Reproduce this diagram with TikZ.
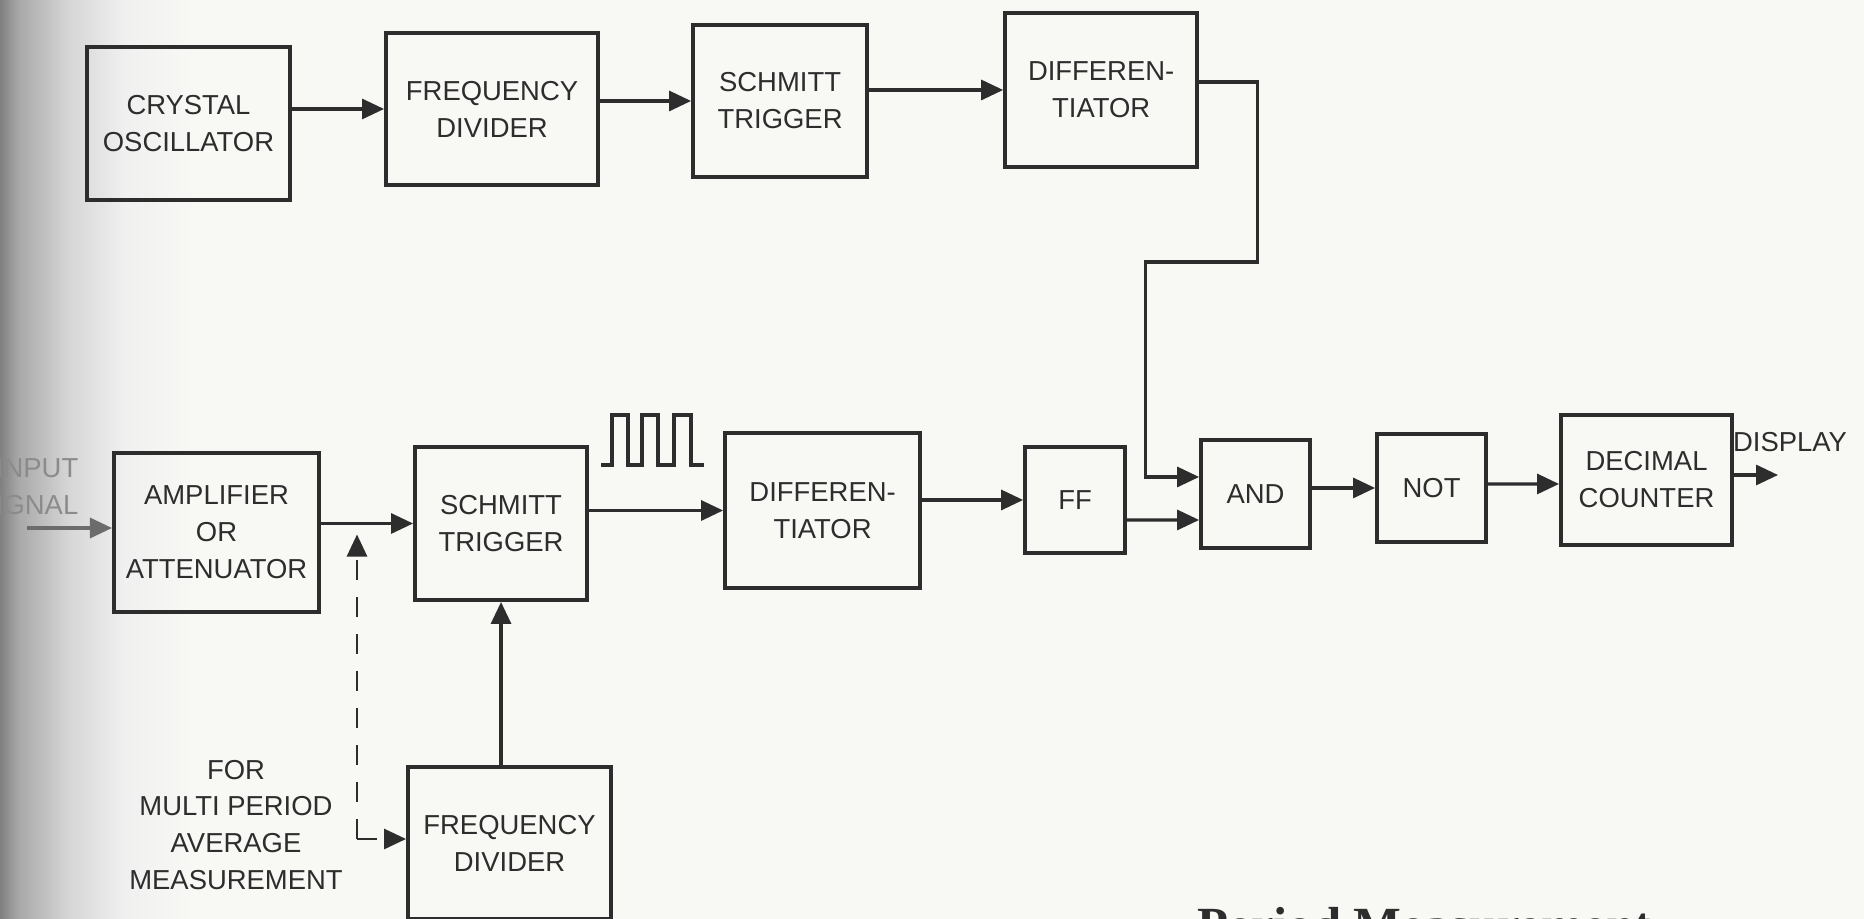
\documentclass[tikz,border=0pt]{standalone}
\usepackage{fontspec}
\setmainfont{Liberation Serif}
\setsansfont{Liberation Sans}
\usetikzlibrary{arrows.meta, positioning, calc}

\definecolor{paper}{RGB}{248,248,245}
\definecolor{ink}{RGB}{45,45,45}
\pgfdeclarehorizontalshading{gutter}{100bp}{color(0bp)=(black!50); color(25bp)=(black!50); color(29bp)=(black!34); color(40bp)=(black!16); color(52bp)=(black!6); color(67bp)=(paper); color(100bp)=(paper)}

\begin{document}
\begin{tikzpicture}[
        x=0.01cm, y=-0.01cm,
        block/.style={rectangle, draw=ink, line width=1.1pt, text=ink, align=center, inner sep=0.5mm, font=\sffamily\fontsize{7.8}{10.5}\selectfont},
        note/.style={text=ink, align=center, inner sep=0.5mm, font=\sffamily\fontsize{7.8}{10.5}\selectfont},
        arrow/.style={-{Triangle[length=2.2mm, width=2mm]}, draw=ink, line width=0.9pt},
        dasharrow/.style={-{Triangle[length=2.2mm, width=2mm]}, draw=ink, line width=0.8pt, dash pattern=on 2mm off 1.7mm}
    ]

    % page and gutter shadow
    \fill [paper] (0,0) rectangle (1864,919);
    \shade [shading=gutter] (0,0) rectangle (230,919);
    \useasboundingbox (0,0) rectangle (1864,919);

    % reference chain
    \node (cry_node) [block, minimum width=20.3mm, minimum height=15.3mm] at (188.5,123.5) {CRYSTAL\\OSCILLATOR};
    \node (fdiv_node) [block, minimum width=21.2mm, minimum height=15.2mm, right=9.2mm of cry_node, yshift=1.45mm] {FREQUENCY\\DIVIDER};
    \node (schmitt_node) [block, minimum width=17.4mm, minimum height=15.2mm, right=9.1mm of fdiv_node, yshift=0.8mm] {SCHMITT\\TRIGGER};
    \node (diff_node) [block, minimum width=19.2mm, minimum height=15.4mm, right=13.4mm of schmitt_node, yshift=1.1mm] {DIFFEREN-\\TIATOR};

    % signal chain
    \coordinate (input_pt) at (27,528);
    \node (insig_node) [note, text=ink!55, anchor=east, align=right] at (84,487) {INPUT\\SIGNAL};
    \node (amp_node) [block, minimum width=20.5mm, minimum height=15.9mm] at (216.5,532.5) {AMPLIFIER\\OR\\ATTENUATOR};
    \node (schmitt2_node) [block, minimum width=17.2mm, minimum height=15.3mm, right=9.2mm of amp_node, yshift=0.9mm] {SCHMITT\\TRIGGER};
    \node (diff2_node) [block, minimum width=19.5mm, minimum height=15.5mm, right=13.4mm of schmitt2_node, yshift=1.3mm] {DIFFEREN-\\TIATOR};
    \node (ff_node) [block, minimum width=10mm, minimum height=10.6mm, right=10.1mm of diff2_node, yshift=1.05mm] {FF};
    \node (and_node) [block, minimum width=10.9mm, minimum height=10.8mm, right=7.2mm of ff_node, yshift=0.6mm] {AND};
    \node (not_node) [block, minimum width=10.9mm, minimum height=10.8mm, right=6.3mm of and_node, yshift=0.6mm] {NOT};
    \node (dec_node) [block, minimum width=17.1mm, minimum height=13mm, right=7.1mm of not_node, yshift=0.8mm] {DECIMAL\\COUNTER};
    \coordinate (disp_pt) at (1778,475);
    \node (disp_node) [note, anchor=base] at (1790,452) {DISPLAY};

    % multi period branch
    \node (fdiv2_node) [block, minimum width=20.3mm, minimum height=15.2mm, below=16.3mm of schmitt2_node, xshift=0.85mm] {FREQUENCY\\DIVIDER};
    \node (multi_node) [note] at (236,825) {FOR\\MULTI PERIOD\\AVERAGE\\MEASUREMENT};
    \coordinate (split_pt) at (357,839);

    % connectors
    \draw [arrow] (cry_node.east |- fdiv_node.west) -- (fdiv_node.west);
    \draw [arrow] (fdiv_node.east |- schmitt_node.west) -- (schmitt_node.west);
    \draw [arrow] (schmitt_node.east |- diff_node.west) -- (diff_node.west);
    \draw [arrow] ($(diff_node.east)+(0,-8)$) -- ++(58,0) |- ++(-112,180) |- ($(and_node.west)+(0,-17)$);

    \draw [arrow, draw=ink!70] (input_pt) -- (input_pt -| amp_node.west);
    \draw [arrow] (amp_node.east |- schmitt2_node.west) -- (schmitt2_node.west);
    \draw [arrow] (schmitt2_node.east |- diff2_node.west) -- (diff2_node.west);
    \draw [arrow] (diff2_node.east |- ff_node.west) -- (ff_node.west);
    \draw [arrow] ($(ff_node.east)+(0,20)$) -- ($(and_node.west)+(0,26)$);
    \draw [arrow] (and_node.east |- not_node.west) -- (not_node.west);
    \draw [arrow] ($(not_node.east)+(0,-4)$) -- ($(dec_node.west)+(0,4)$);
    \draw [arrow] (dec_node.east |- disp_pt) -- (disp_pt);

    \draw [arrow] (fdiv2_node.north -| schmitt2_node.south) -- (schmitt2_node.south);
    \draw [dasharrow] (split_pt) -- ($(split_pt |- schmitt2_node.west)+(0,11)$);
    \draw [dasharrow] (split_pt) -- (split_pt -| fdiv2_node.west);

    % pulse train
    \draw [ink, line width=0.9pt] ($(schmitt2_node.north east)+(12,20)$) -- ++(11,0) -- ++(0,-50) -- ++(16,0) -- ++(0,50) -- ++(14,0) -- ++(0,-50) -- ++(16,0) -- ++(0,50) -- ++(16,0) -- ++(0,-50) -- ++(17,0) -- ++(0,50) -- ++(13,0);

    % caption, cut by the page edge
    \node (cap_node) [anchor=base west, inner sep=0, text=ink, font=\rmfamily\bfseries\fontsize{14.4}{16}\selectfont] at (1197,942) {Period Measurement};

\end{tikzpicture}
\end{document}
